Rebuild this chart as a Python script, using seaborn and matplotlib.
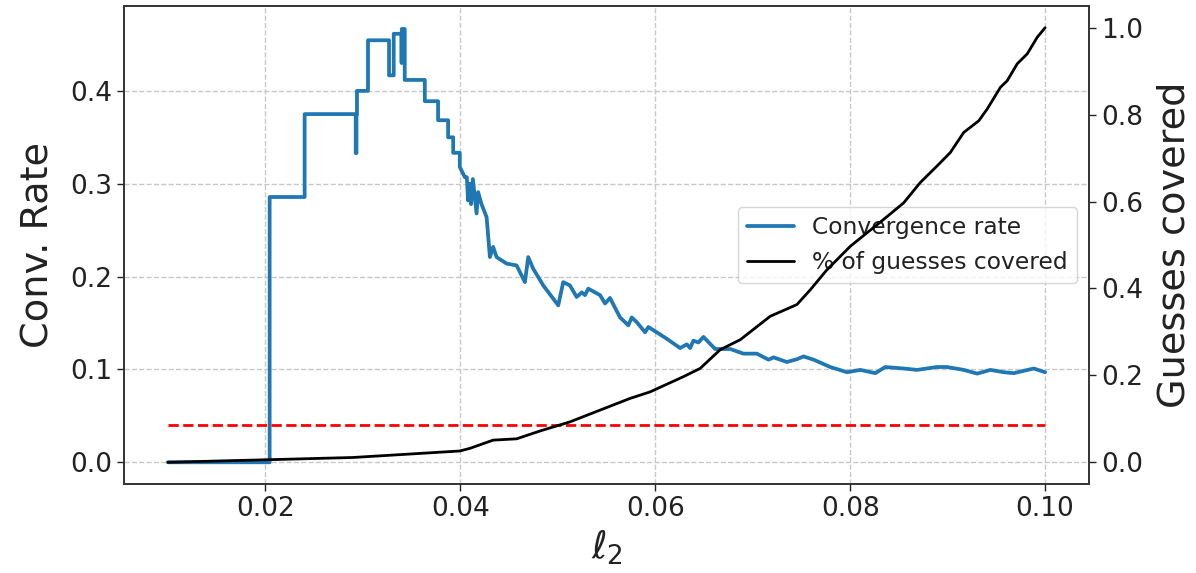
import numpy as np
import pandas as pd
import matplotlib
matplotlib.use("Agg")
import matplotlib.pyplot as plt
import seaborn as sns

# Convergence rate as a function of the l2 radius (vertical jumps use repeated x)
conv_x = [0.0100, 0.02044, 0.02044, 0.02403, 0.02403, 0.02927, 0.02927, 0.02935,
          0.02935, 0.02940, 0.02940, 0.03053, 0.03053, 0.03269, 0.03269, 0.03317,
          0.03317, 0.03396, 0.03398, 0.03400, 0.03430, 0.03430, 0.03636, 0.03636,
          0.03772, 0.03772, 0.03875, 0.03875, 0.03927, 0.03927, 0.03995, 0.03995,
          0.04047, 0.04067, 0.04080, 0.04098, 0.04110, 0.04129, 0.04167, 0.04183,
          0.04218, 0.04270, 0.04304, 0.04337, 0.04372, 0.04475, 0.04578, 0.04663,
          0.04697, 0.04748, 0.04851, 0.05005, 0.05056, 0.05125, 0.05194, 0.05246,
          0.05279, 0.05313, 0.05434, 0.05485, 0.05536, 0.05639, 0.05724, 0.05759,
          0.05810, 0.05896, 0.05930, 0.06119, 0.06255, 0.06324, 0.06358, 0.06392,
          0.06443, 0.06495, 0.06615, 0.06769, 0.06906, 0.07043, 0.07162, 0.07214,
          0.07350, 0.07454, 0.07522, 0.07625, 0.07796, 0.07968, 0.08104, 0.08258,
          0.08360, 0.08549, 0.08687, 0.08890, 0.08993, 0.09165, 0.09303, 0.09439,
          0.09576, 0.09679, 0.09884, 0.10000]
conv_rate = [0.000, 0.000, 0.2857, 0.2857, 0.375, 0.375, 0.333, 0.333,
             0.375, 0.375, 0.400, 0.400, 0.4545, 0.4545, 0.4167, 0.4167,
             0.4615, 0.4615, 0.430, 0.4667, 0.4667, 0.4118, 0.4118, 0.3889,
             0.3889, 0.3684, 0.3684, 0.350, 0.350, 0.3333, 0.3333, 0.318,
             0.307, 0.307, 0.282, 0.300, 0.278, 0.305, 0.268, 0.291,
             0.278, 0.264, 0.221, 0.232, 0.221, 0.214, 0.212, 0.194,
             0.221, 0.2085, 0.1905, 0.169, 0.194, 0.1905, 0.178, 0.183,
             0.180, 0.187, 0.180, 0.171, 0.177, 0.156, 0.1475, 0.156,
             0.151, 0.140, 0.1457, 0.133, 0.123, 0.127, 0.123, 0.131,
             0.129, 0.135, 0.122, 0.122, 0.117, 0.117, 0.1105, 0.113,
             0.108, 0.111, 0.114, 0.1105, 0.1026, 0.097, 0.0995, 0.096,
             0.1026, 0.101, 0.0995, 0.1026, 0.1026, 0.0995, 0.0955, 0.0995,
             0.097, 0.096, 0.101, 0.097]

# Fraction of guesses covered
cov_x = [0.0100, 0.02044, 0.02896, 0.03410, 0.03995, 0.04098, 0.04337, 0.04578,
         0.04817, 0.05125, 0.05742, 0.05947, 0.06289, 0.06461, 0.06666, 0.06872,
         0.07043, 0.07180, 0.07454, 0.07591, 0.07762, 0.08001, 0.08344, 0.08549,
         0.08720, 0.08892, 0.09028, 0.09165, 0.09320, 0.09406, 0.09542, 0.09611,
         0.09714, 0.09817, 0.09919, 0.10000]
cov_frac = [0.000, 0.006, 0.011, 0.018, 0.026, 0.032, 0.051, 0.054,
            0.072, 0.093, 0.147, 0.162, 0.197, 0.216, 0.259, 0.282,
            0.312, 0.336, 0.363, 0.397, 0.443, 0.497, 0.559, 0.597,
            0.644, 0.682, 0.713, 0.759, 0.786, 0.813, 0.863, 0.878,
            0.917, 0.940, 0.978, 1.000]

# Baseline rate
base_x = [0.01, 0.10]
base_rate = [0.04, 0.04]

x_ticks = [0.02, 0.04, 0.06, 0.08, 0.10]
left_ticks = [0.0, 0.1, 0.2, 0.3, 0.4]
right_ticks = [0.0, 0.2, 0.4, 0.6, 0.8, 1.0]

sns.set_style("ticks")
plt.rcParams["font.family"] = ["DejaVu Sans"]
text_color = "#222222"

fig = plt.figure(figsize=(11.96, 5.73), dpi=100)
ax1 = fig.add_axes([0.1037, 0.1553, 0.8068, 0.8342])
ax2 = ax1.twinx()

sns.lineplot(x=conv_x, y=conv_rate, ax=ax1, estimator=None, sort=False,
             color="#1f77b4", linewidth=2.7, label="Convergence rate", legend=False)
sns.lineplot(x=base_x, y=base_rate, ax=ax1, estimator=None, sort=False,
             color="red", linewidth=2, linestyle="--", legend=False)
sns.lineplot(x=cov_x, y=cov_frac, ax=ax2, estimator=None, sort=False,
             color="black", linewidth=2, label="% of guesses covered", legend=False)

ax1.set_xlim(0.0055, 0.1045)
ax1.set_ylim(-0.0234, 0.4914)
ax2.set_ylim(-0.05, 1.05)

ax1.set_xticks(x_ticks)
ax1.set_xticklabels([f"{t:.2f}" for t in x_ticks])
ax1.set_yticks(left_ticks)
ax1.set_yticklabels([f"{t:.1f}" for t in left_ticks])
ax2.set_yticks(right_ticks)
ax2.set_yticklabels([f"{t:.1f}" for t in right_ticks])

ax1.grid(True, linestyle="--", color="#c8c8c8", linewidth=1.0)
ax2.grid(False)

for ax in (ax1, ax2):
    ax.tick_params(labelsize=19, colors=text_color, length=5, width=1)
    for sp in ax.spines.values():
        sp.set_visible(True)
        sp.set_color("#333333")
        sp.set_linewidth(1.2)

ax1.set_xlabel(r"$\ell_2$", fontsize=27, color=text_color, labelpad=4)
ax1.set_ylabel("Conv. Rate", fontsize=27.5, color=text_color, labelpad=10)
ax2.set_ylabel("Guesses covered", fontsize=27.5, color=text_color, labelpad=10)

h1, l1 = ax1.get_legend_handles_labels()
h2, l2 = ax2.get_legend_handles_labels()
leg = ax1.legend(h1 + h2, l1 + l2, loc="center right", fontsize=16.8, frameon=True)
for t in leg.get_texts():
    t.set_color(text_color)

fig.savefig("out.png", dpi=100)
